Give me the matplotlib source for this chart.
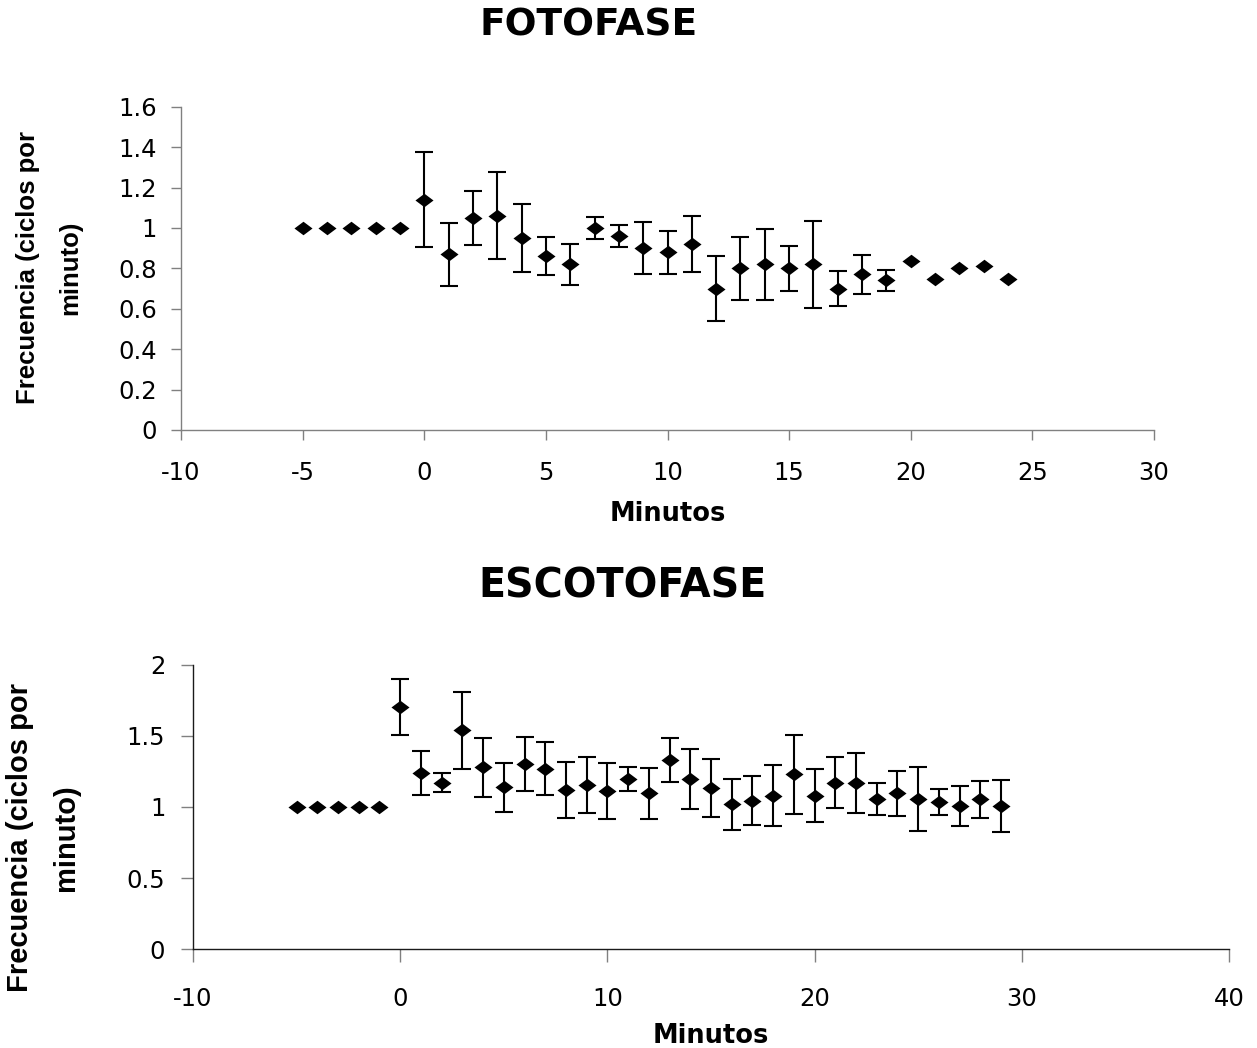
import numpy as np
import matplotlib
matplotlib.use("Agg")
import matplotlib.pyplot as plt
from matplotlib.path import Path

# ---- FOTOFASE data (minutes, mean frequency, error) ----
foto_min = [-5, -4, -3, -2, -1, 0, 1, 2, 3, 4, 5, 6, 7, 8, 9, 10, 11, 12,
            13, 14, 15, 16, 17, 18, 19, 20, 21, 22, 23, 24]
foto_mean = [1.00, 1.00, 1.00, 1.00, 1.00, 1.14, 0.87, 1.05, 1.06, 0.95,
             0.86, 0.82, 1.00, 0.96, 0.90, 0.88, 0.92, 0.70, 0.80, 0.82,
             0.80, 0.82, 0.70, 0.77, 0.74, 0.835, 0.745, 0.80, 0.81, 0.745]
foto_err = [np.nan, np.nan, np.nan, np.nan, np.nan, 0.236, 0.156, 0.135,
            0.215, 0.166, 0.095, 0.102, 0.054, 0.053, 0.130, 0.106, 0.139,
            0.160, 0.157, 0.175, 0.111, 0.214, 0.085, 0.097, 0.054,
            np.nan, np.nan, np.nan, np.nan, np.nan]

# ---- ESCOTOFASE data ----
esco_min = [-5, -4, -3, -2, -1, 0, 1, 2, 3, 4, 5, 6, 7, 8, 9, 10, 11, 12,
            13, 14, 15, 16, 17, 18, 19, 20, 21, 22, 23, 24, 25, 26, 27, 28, 29]
esco_mean = [1.00, 1.00, 1.00, 1.00, 1.00, 1.70, 1.24, 1.17, 1.54, 1.28,
             1.14, 1.30, 1.27, 1.12, 1.155, 1.11, 1.195, 1.095, 1.33, 1.195,
             1.135, 1.02, 1.045, 1.08, 1.23, 1.08, 1.17, 1.17, 1.055, 1.095,
             1.055, 1.035, 1.005, 1.055, 1.005]
esco_err = [np.nan, np.nan, np.nan, np.nan, np.nan, 0.197, 0.155, 0.067,
            0.270, 0.208, 0.172, 0.190, 0.184, 0.197, 0.197, 0.197, 0.085,
            0.178, 0.153, 0.210, 0.203, 0.180, 0.173, 0.216, 0.277, 0.184,
            0.178, 0.209, 0.111, 0.159, 0.226, 0.091, 0.141, 0.129, 0.184]

foto_yticks = [0, 0.2, 0.4, 0.6, 0.8, 1, 1.2, 1.4, 1.6]
foto_yticklabels = ["0", "0.2", "0.4", "0.6", "0.8", "1", "1.2", "1.4", "1.6"]
foto_xticks = [-10, -5, 0, 5, 10, 15, 20, 25, 30]
esco_yticks = [0, 0.5, 1, 1.5, 2]
esco_yticklabels = ["0", "0.5", "1", "1.5", "2"]
esco_xticks = [-10, 0, 10, 20, 30, 40]

ylabel_text = "Frecuencia (ciclos por\nminuto)"

# wide diamond marker
diamond = Path([(0, 0.75), (1, 0), (0, -0.75), (-1, 0), (0, 0.75)],
               [Path.MOVETO, Path.LINETO, Path.LINETO, Path.LINETO, Path.CLOSEPOLY])

W, H = 1257, 1048
fig = plt.figure(figsize=(W / 100, H / 100), dpi=100)
fig.patch.set_facecolor("white")

TICK_FONT = "DejaVu Sans"


def style_axes(ax, spine_color, ticklen, ypad, xpad):
    for s in ("top", "right"):
        ax.spines[s].set_visible(False)
    for s in ("left", "bottom"):
        ax.spines[s].set_color(spine_color)
        ax.spines[s].set_linewidth(1.0)
    ax.tick_params(axis="both", direction="out", length=ticklen, width=1.0,
                   color="#808080", labelsize=17.5, labelcolor="black")
    ax.tick_params(axis="y", pad=ypad)
    ax.tick_params(axis="x", pad=xpad)
    for lab in ax.get_xticklabels() + ax.get_yticklabels():
        lab.set_fontfamily(TICK_FONT)


def draw_series(ax, x, y, err):
    ax.errorbar(x, y, yerr=err, fmt="none", ecolor="black", elinewidth=1.5,
                capsize=6.5, capthick=1.5, zorder=2)
    ax.plot(x, y, linestyle="none", marker=diamond, markersize=13,
            color="black", markeredgewidth=0, zorder=3)


# ---- upper panel ----
ax1 = fig.add_axes([181 / W, 1 - 430 / H, 973 / W, 323.3 / H])
draw_series(ax1, foto_min, foto_mean, foto_err)
ax1.set_xlim(-10, 30)
ax1.set_ylim(0, 1.6)
ax1.set_xticks(foto_xticks)
ax1.set_xticklabels([str(t) for t in foto_xticks])
ax1.set_yticks(foto_yticks)
ax1.set_yticklabels(foto_yticklabels)
style_axes(ax1, "#808080", 7.5, 10, 15)
ax1.set_xlabel("Minutos", fontsize=18.5, fontweight="bold",
               fontfamily="DejaVu Sans", labelpad=11)

# ---- lower panel ----
ax2 = fig.add_axes([193 / W, 1 - 949.3 / H, 1036 / W, 284.6 / H])
draw_series(ax2, esco_min, esco_mean, esco_err)
ax2.set_xlim(-10, 40)
ax2.set_ylim(0, 2)
ax2.set_xticks(esco_xticks)
ax2.set_xticklabels([str(t) for t in esco_xticks])
ax2.set_yticks(esco_yticks)
ax2.set_yticklabels(esco_yticklabels)
style_axes(ax2, "#1a1a1a", 9, 11, 18)
ax2.set_xlabel("Minutos", fontsize=18.5, fontweight="bold",
               fontfamily="DejaVu Sans", labelpad=9)

# ---- titles ----
fig.text(589 / W, 1 - 25.5 / H, "FOTOFASE", ha="center", va="center",
         fontsize=27, fontweight="bold", fontfamily="DejaVu Sans")
fig.text(622 / W, 1 - 586.5 / H, "ESCOTOFASE", ha="center", va="center",
         fontsize=28.5, fontweight="bold", fontfamily="DejaVu Sans")

# ---- y-axis labels ----
fig.text(49 / W, 1 - 268 / H, ylabel_text, rotation=90, ha="center",
         va="center", multialignment="center", fontsize=18.5,
         fontweight="bold", fontfamily="Liberation Sans", linespacing=1.95)
fig.text(43 / W, 1 - 838 / H, ylabel_text, rotation=90, ha="center",
         va="center", multialignment="center", fontsize=21,
         fontweight="bold", fontfamily="Liberation Sans", linespacing=1.8)

fig.savefig("out.png", dpi=100, facecolor="white")
